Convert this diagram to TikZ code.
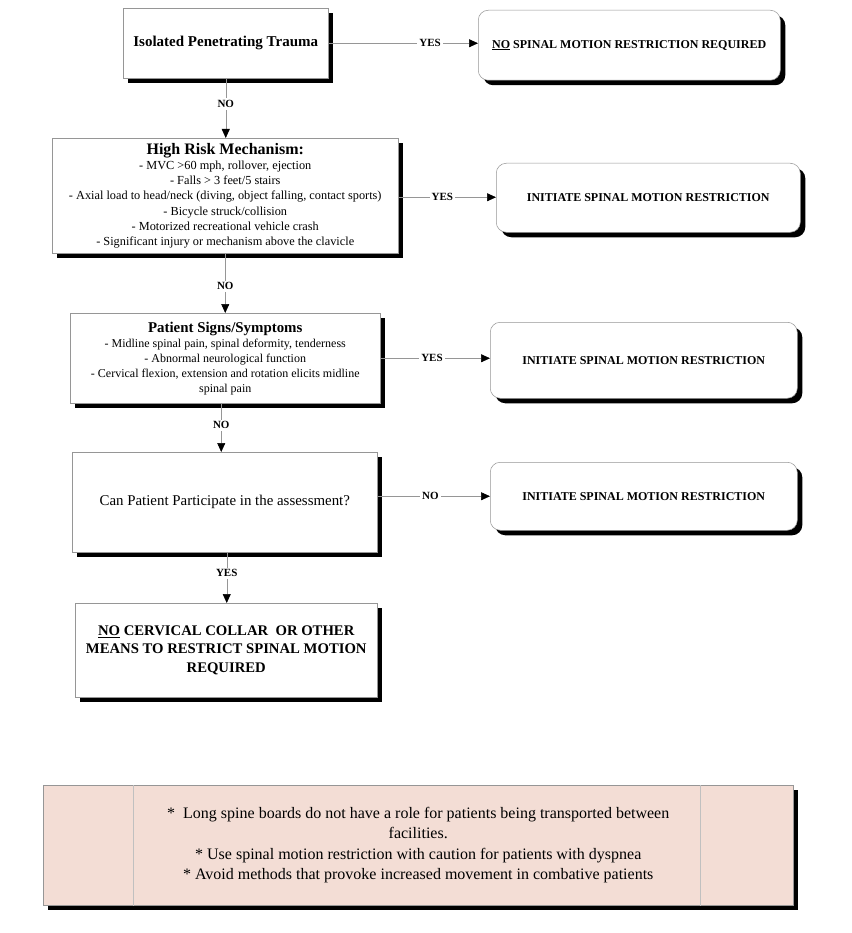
\documentclass[tikz,border=0pt]{standalone}
\usepackage{fontspec}
\setmainfont{Liberation Serif}
\usetikzlibrary{shadows,arrows.meta}
\definecolor{notefill}{RGB}{243,221,213}
\definecolor{edge}{RGB}{150,150,150}
\begin{document}
\begin{tikzpicture}[x=1pt,y=-1pt,
  box/.style={draw=edge,line width=0.5pt,fill=white,inner sep=0pt,align=center,anchor=north west,
    drop shadow={shadow xshift=5pt,shadow yshift=-5pt,fill=black,opacity=1}},
  rbox/.style={box,rounded corners=10pt},
  conn/.style={draw=edge,line width=0.5pt,-{Triangle[length=9pt,width=8pt,color=black,fill=black]}},
  lbl/.style={fill=white,inner sep=2pt,text=black,font=\fontsize{11}{12}\selectfont\bfseries},
  rtext/.style={font=\fontsize{12}{14}\selectfont\bfseries},
]
\useasboundingbox (0,0) rectangle (851,933);

% main column
\node[box,minimum width=205pt,minimum height=70pt,font=\fontsize{15}{17}\selectfont\bfseries] (b1) at (123,8) {Isolated Penetrating Trauma};
\node[box,minimum width=346pt,minimum height=115pt,font=\fontsize{12.3}{15.2}\selectfont] (b2) at (52,138)
  {{\fontsize{16}{17}\selectfont\bfseries High Risk Mechanism:}\\
   - MVC >60 mph, rollover, ejection\\
   - Falls > 3 feet/5 stairs\\
   - Axial load to head/neck (diving, object falling, contact sports)\\
   - Bicycle struck/collision\\
   - Motorized recreational vehicle crash\\
   - Significant injury or mechanism above the clavicle};
\node[box,minimum width=310pt,minimum height=90pt,font=\fontsize{12}{15}\selectfont] (b3) at (70,313)
  {{\fontsize{14.9}{16}\selectfont\bfseries Patient Signs/Symptoms}\\
   - Midline spinal pain, spinal deformity, tenderness\\
   - Abnormal neurological function\\
   - Cervical flexion, extension and rotation elicits midline\\
   spinal pain};
\node[box,minimum width=305pt,minimum height=100pt,font=\fontsize{14.9}{17}\selectfont] (b4) at (72,452)
  {Can Patient Participate in the assessment?};
\node[box,minimum width=302pt,minimum height=94pt,font=\fontsize{14.7}{18.5}\selectfont\bfseries] (b5) at (75,603)
  {\underline{NO} CERVICAL COLLAR\ \ OR OTHER\\ MEANS TO RESTRICT SPINAL MOTION\\ REQUIRED};

% right column
\node[rbox,minimum width=302pt,minimum height=70pt,rtext] (r1) at (478,10) {\underline{NO} SPINAL MOTION RESTRICTION REQUIRED};
\node[rbox,minimum width=304pt,minimum height=69pt,rtext] (r2) at (496,163) {INITIATE SPINAL MOTION RESTRICTION};
\node[rbox,minimum width=307pt,minimum height=76pt,rtext] (r3) at (490,322) {INITIATE SPINAL MOTION RESTRICTION};
\node[rbox,minimum width=307pt,minimum height=68pt,rtext] (r4) at (490,462) {INITIATE SPINAL MOTION RESTRICTION};

% note box
\node[box,minimum width=750pt,minimum height=120pt,fill=notefill,font=\fontsize{16}{20.5}\selectfont] (note) at (43,785)
  {*\ \ Long spine boards do not have a role for patients being transported between\\
   facilities.\\
   * Use spinal motion restriction with caution for patients with dyspnea\\
   * Avoid methods that provoke increased movement in combative patients};
\draw[edge!60,line width=0.4pt] ([xshift=90pt]note.north west) -- ([xshift=90pt]note.south west);
\draw[edge!60,line width=0.4pt] ([xshift=-93pt]note.north east) -- ([xshift=-93pt]note.south east);

% horizontal connectors
\draw[conn] (b1.east) -- (b1.east -| r1.west) node[lbl,pos=0.68] {YES};
\draw[conn] ([yshift=-1.5pt]b2.east) -- ([yshift=-1.5pt]b2.east -| r2.west) node[lbl,pos=0.45] {YES};
\draw[conn] (b3.east) -- (b3.east -| r3.west) node[lbl,pos=0.47] {YES};
\draw[conn] ([yshift=6pt]b4.east) -- ([yshift=6pt]b4.east -| r4.west) node[lbl,pos=0.47] {NO};

% vertical connectors
\draw[conn] (b1.south) -- (b1.south |- b2.north) node[lbl,pos=0.43] {NO};
\draw[conn] (b2.south) -- (b2.south |- b3.north) node[lbl,pos=0.55] {NO};
\draw[conn] ([xshift=-4pt]b3.south) -- ([xshift=-4pt]b3.south |- b4.north) node[lbl,pos=0.45] {NO};
\draw[conn] ([xshift=2pt]b4.south) -- ([xshift=2pt]b4.south |- b5.north) node[lbl,pos=0.41] {YES};
\end{tikzpicture}
\end{document}
